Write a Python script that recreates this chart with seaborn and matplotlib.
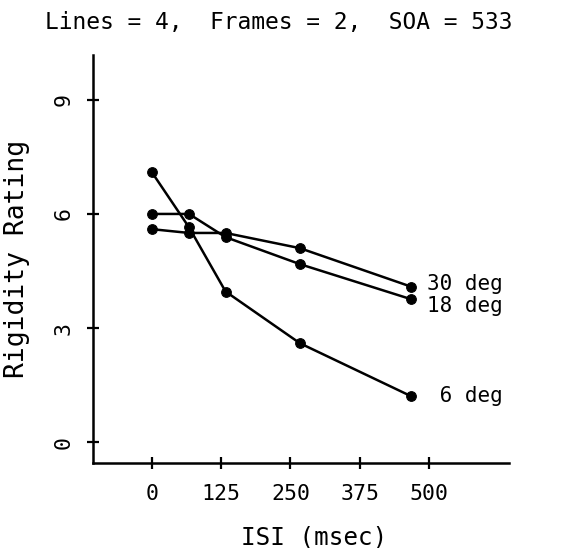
import pandas as pd
import matplotlib
matplotlib.use('Agg')
import matplotlib.pyplot as plt
import seaborn as sns

# data
isi = [0, 67, 133, 267, 467]
sizes = ['6 deg', '18 deg', '30 deg']
rating_6 = [7.1, 5.65, 3.96, 2.6, 1.21]
rating_18 = [6.0, 6.0, 5.39, 4.68, 3.76]
rating_30 = [5.6, 5.5, 5.5, 5.1, 4.09]
x_ticks = [0, 125, 250, 375, 500]
y_ticks = [0, 3, 6, 9]

df = pd.DataFrame({
    'ISI': isi * 3,
    'rating': rating_6 + rating_18 + rating_30,
    'size': [s for s in sizes for _ in isi],
})

sns.set_style('ticks')
plt.rcParams['font.family'] = ['DejaVu Sans Mono', 'DejaVu Sans']
plt.rcParams['text.color'] = 'black'
plt.rcParams['axes.labelcolor'] = 'black'
plt.rcParams['xtick.color'] = 'black'
plt.rcParams['ytick.color'] = 'black'

fig = plt.figure(figsize=(5.72, 5.48), dpi=100)
ax = fig.add_axes([93 / 572, 1 - 463 / 548, (509 - 93) / 572, (463 - 55) / 548])

sns.lineplot(data=df, x='ISI', y='rating', hue='size', palette=['black'] * 3,
             marker='o', markersize=7, markeredgecolor='black', linewidth=1.8,
             legend=False, ax=ax)

# end labels
for s, vals, dy in [('6 deg', rating_6, 0), ('18 deg', rating_18, -5), ('30 deg', rating_30, 1.5)]:
    ax.annotate(f'{s:>6}', xy=(isi[-1], vals[-1]), xytext=(12, dy),
                textcoords='offset points', ha='left', va='center', fontsize=15)

ax.set_xlim(-106, 644)
ax.set_ylim(-0.55, 10.18)
ax.set_xticks(x_ticks)
ax.set_yticks(y_ticks)
ax.set_yticklabels([str(v) for v in y_ticks], rotation=90, va='center')
ax.tick_params(direction='inout', length=8, width=1.6, labelsize=15.5)
ax.tick_params(axis='x', pad=11)
ax.tick_params(axis='y', pad=10)
for side in ['top', 'right']:
    ax.spines[side].set_visible(False)
for side in ['left', 'bottom']:
    ax.spines[side].set_linewidth(1.8)
    ax.spines[side].set_color('black')

ax.set_xlabel('ISI (msec)', fontsize=17.5)
ax.set_ylabel('Rigidity Rating', fontsize=19)
ax.xaxis.set_label_coords((314 - 93) / 416, -(525 - 463) / 408)
ax.yaxis.set_label_coords(-(93 - 30) / 416, (463 - 259) / 408)

fig.text(279 / 572, 1 - 22 / 548, 'Lines = 4,  Frames = 2,  SOA = 533',
         ha='center', va='center', fontsize=16.5)

fig.savefig('out.png', dpi=100)
